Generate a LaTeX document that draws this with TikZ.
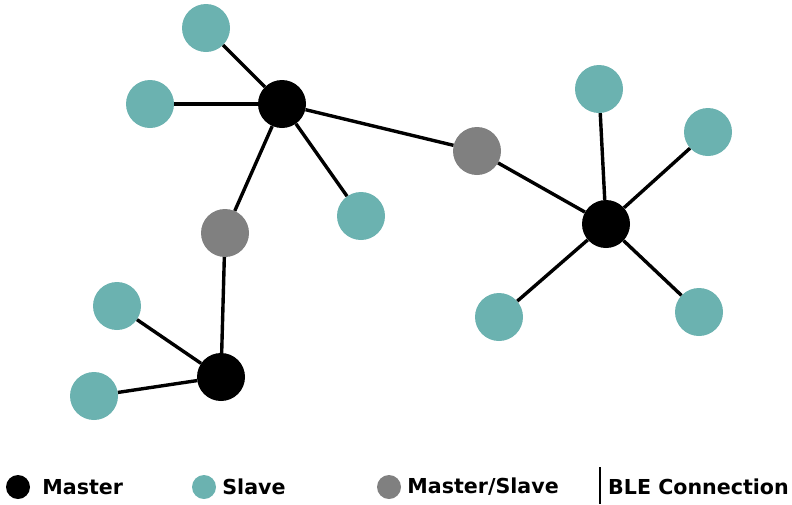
\documentclass[tikz,border=0pt]{standalone}
\usepackage{fontspec}
\setmainfont{DejaVu Sans}
\usetikzlibrary{positioning}

\definecolor{slavecol}{RGB}{107,178,176}
\definecolor{mscol}{RGB}{128,128,128}

\tikzset{
  master/.style={circle, fill=black, minimum size=48pt, inner sep=0pt},
  slave/.style={circle, fill=slavecol, minimum size=48pt, inner sep=0pt},
  mslave/.style={circle, fill=mscol, minimum size=48pt, inner sep=0pt},
  link/.style={line width=3.4pt},
  keydot/.style={circle, minimum size=24pt, inner sep=0pt},
  keytext/.style={anchor=west, inner sep=0pt, font=\fontsize{20.6}{24}\selectfont\bfseries}
}

\begin{document}
\begin{tikzpicture}[x=1pt, y=-1pt]
  \useasboundingbox (0,0) rectangle (792,504);

  % Define nodes
  \node[master] (ma) at (282,104) {};
  \node[master] (mb) at (606,224) {};
  \node[master] (mc) at (221,377) {};
  \node[mslave] (msa) at (477,151) {};
  \node[mslave] (msb) at (225,233) {};
  \node[slave] (sa1) at (206,28) {};
  \node[slave] (sa2) at (150,104) {};
  \node[slave] (sa3) at (361,216) {};
  \node[slave] (sb1) at (599,89) {};
  \node[slave] (sb2) at (708,132) {};
  \node[slave] (sb3) at (499,317) {};
  \node[slave] (sb4) at (699,312) {};
  \node[slave] (sc1) at (117,306) {};
  \node[slave] (sc2) at (94,396) {};

  % Connect the nodes
  \foreach \s in {sa1, sa2, sa3, msa, msb} \draw[link] (ma) -- (\s);
  \foreach \s in {msa, sb1, sb2, sb3, sb4} \draw[link] (mb) -- (\s);
  \foreach \s in {msb, sc1, sc2} \draw[link] (mc) -- (\s);

  % Legend
  \node[keydot, fill=black] (kma) at (18,487) {};
  \node[keytext, right=12pt of kma] (tma) {Master};
  \node[keydot, fill=slavecol] (ksl) at (204,487) {};
  \node[keytext, right=6pt of ksl] (tsl) {Slave};
  \node[keydot, fill=mscol] (kms) at (389,487) {};
  \node[keytext, right=6pt of kms] (tms) {Master/Slave};
  \coordinate (ka) at (600,467);
  \coordinate (kb) at (600,504);
  \draw[line width=2pt] (ka) -- (kb);
  \node[keytext, right=8pt of ka |- kms] (tble) {BLE Connection};
\end{tikzpicture}
\end{document}
